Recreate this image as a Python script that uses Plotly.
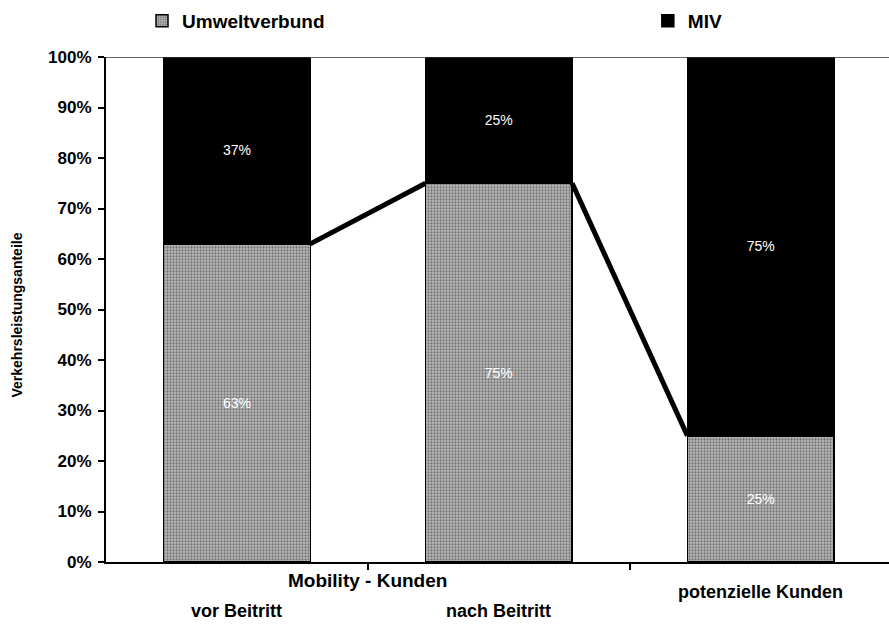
import plotly.graph_objects as go

# Data
groups = ["vor Beitritt", "nach Beitritt", "potenzielle Kunden"]
group_header = "Mobility - Kunden"
umweltverbund = [63, 75, 25]
miv = [37, 25, 75]
y_ticks = [0, 10, 20, 30, 40, 50, 60, 70, 80, 90, 100]

FONT = "Liberation Sans, Arial, sans-serif"
BAR_W = 0.56
xs = list(range(len(groups)))

fig = go.Figure()

fig.add_trace(go.Bar(
    x=xs, y=umweltverbund, name="Umweltverbund", width=BAR_W, legend="legend",
    marker=dict(
        color="#a4a4a4",
        line=dict(color="black", width=1.5),
        pattern=dict(shape=".", fgcolor="#2e2e2e", bgcolor="#bcbcbc", size=3, solidity=0.45),
    ),
    text=[f"{v}%" for v in umweltverbund], textposition="inside", insidetextanchor="middle",
    textfont=dict(color="white", size=14, family=FONT),
))
fig.add_trace(go.Bar(
    x=xs, y=miv, name="MIV", width=BAR_W, legend="legend2",
    marker=dict(color="black", line=dict(color="black", width=1.5)),
    text=[f"{v}%" for v in miv], textposition="inside", insidetextanchor="middle",
    textfont=dict(color="white", size=14, family=FONT),
))

# Series lines joining the tops of the Umweltverbund segments
line_x, line_y = [], []
for i in range(len(xs) - 1):
    line_x += [xs[i] + BAR_W / 2, xs[i + 1] - BAR_W / 2, None]
    line_y += [umweltverbund[i], umweltverbund[i + 1], None]
fig.add_trace(go.Scatter(
    x=line_x, y=line_y, mode="lines", line=dict(color="black", width=5),
    showlegend=False, hoverinfo="skip", connectgaps=False,
))

label_font = dict(size=18, family=FONT, color="black")
annotations = [
    dict(x=0.5, y=-0.037, xref="x", yref="paper", text=f"<b>{group_header}</b>",
         showarrow=False, yanchor="middle", font=dict(size=19, family=FONT, color="black")),
    dict(x=xs[0], y=-0.098, xref="x", yref="paper", text=f"<b>{groups[0]}</b>",
         showarrow=False, yanchor="middle", font=label_font),
    dict(x=xs[1], y=-0.098, xref="x", yref="paper", text=f"<b>{groups[1]}</b>",
         showarrow=False, yanchor="middle", font=label_font),
    dict(x=xs[2], y=-0.059, xref="x", yref="paper", text=f"<b>{groups[2]}</b>",
         showarrow=False, yanchor="middle", font=label_font),
    dict(x=-0.1137, y=0.49, xref="paper", yref="paper", text="<b>Verkehrsleistungsanteile</b>",
         textangle=-90, showarrow=False, xanchor="center", yanchor="middle",
         font=dict(size=14, family=FONT, color="black")),
]

legend_font = dict(size=19, family=FONT, color="black", weight="bold")

fig.update_layout(
    width=889, height=624,
    margin=dict(l=106, r=0, t=57, b=62, autoexpand=False),
    barmode="stack",
    plot_bgcolor="white", paper_bgcolor="white",
    font=dict(family=FONT, color="black"),
    showlegend=True,
    legend=dict(orientation="h", x=0.046, xanchor="left", y=1.0713, yanchor="middle",
                font=legend_font, bgcolor="rgba(0,0,0,0)"),
    legend2=dict(orientation="h", x=0.692, xanchor="left", y=1.0713, yanchor="middle",
                 font=legend_font, bgcolor="rgba(0,0,0,0)"),
    annotations=annotations,
    shapes=[dict(type="line", xref="paper", yref="y", x0=0, x1=1, y0=100, y1=100,
                 line=dict(color="#333333", width=1.5))],
)

fig.update_xaxes(
    range=[-0.5, 2.49], tickvals=[0.5, 1.5], ticktext=["", ""],
    ticks="outside", ticklen=6, tickcolor="black", tickwidth=1.5,
    showline=True, linecolor="black", linewidth=2, showgrid=False, zeroline=False,
)
fig.update_yaxes(
    range=[0, 100], tickvals=y_ticks, ticktext=[f"<b>{v}%</b>" for v in y_ticks],
    tickfont=dict(size=17, family=FONT, color="black"),
    ticks="outside", ticklen=6, tickcolor="black", tickwidth=1.5, ticklabelstandoff=3,
    showline=True, linecolor="black", linewidth=2, showgrid=False, zeroline=False,
)

fig.write_html("out.html")
